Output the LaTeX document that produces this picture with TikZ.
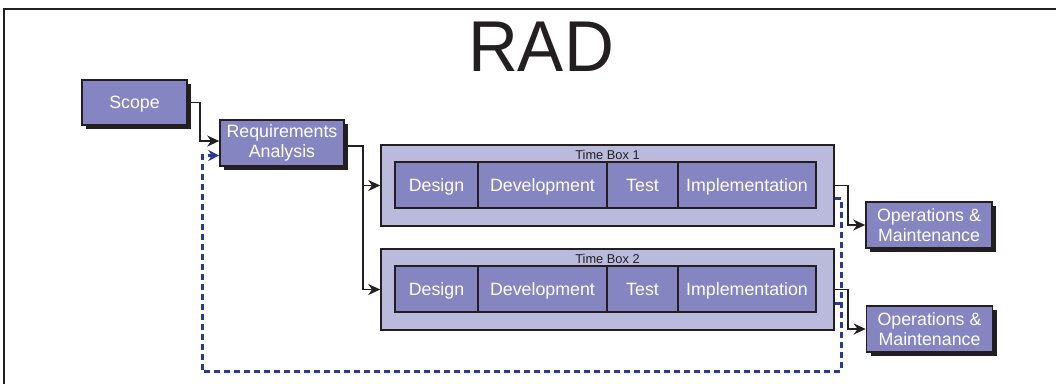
\documentclass[tikz,border=0pt]{standalone}
\usepackage{fontspec}
\setmainfont{Liberation Sans}
\usetikzlibrary{shadows,arrows.meta}
\definecolor{boxfill}{HTML}{8585C1}
\definecolor{tbfill}{HTML}{BABADD}
\definecolor{ink}{HTML}{231F20}
\definecolor{dashblue}{HTML}{2A3A98}
\tikzset{
  darkbox/.style={draw=ink, line width=1.6pt, fill=boxfill, text=white, align=center,
    inner sep=0pt, font=\fontsize{17.8}{19.5}\selectfont,
    drop shadow={shadow xshift=4pt, shadow yshift=-4pt, fill=ink, opacity=1}},
  onelinebox/.style={darkbox, text height=12.7pt, text depth=0pt},
  tbbox/.style={draw=ink, line width=1.6pt, fill=tbfill, inner sep=0pt},
  cell/.style={draw=ink, line width=1.5pt, fill=boxfill, text=white, inner sep=0pt,
    minimum height=46pt, text height=12.7pt, text depth=0pt, font=\fontsize{17.8}{19.5}\selectfont},
  tblabel/.style={font=\fontsize{12.8}{13}\selectfont, text=ink, inner sep=0pt},
  arr/.style={draw=ink, line width=1.7pt, -{Stealth[length=12pt,width=11pt]}},
  bdash/.style={draw=dashblue, line width=3pt, dash pattern=on 6pt off 4pt},
  barr/.style={-{Stealth[length=11pt,width=11pt]}}
}
\begin{document}
\begin{tikzpicture}[x=1pt,y=-1pt]
\useasboundingbox (0,0) rectangle (1056,383);
\draw[ink, line width=2pt] (4,9) rectangle (1080,400);
\node[inner sep=0pt, text=ink, font=\fontsize{72}{72}\selectfont] (title) at (541,47) {\scalebox{0.96}[1]{RAD}};

\node[onelinebox, minimum width=105pt, minimum height=45pt] (scope) at (134.5,102.5) {Scope};
\node[darkbox, minimum width=124pt, minimum height=46pt] (ra) at (282,143) {Requirements\\Analysis};
\node[darkbox, minimum width=126pt, minimum height=46pt] (om1) at (929,225) {Operations \&\\Maintenance};
\node[darkbox, minimum width=126pt, minimum height=46pt] (om2) at (929.5,329) {Operations \&\\Maintenance};

\node[tbbox, minimum width=453pt, minimum height=81pt] (tb1) at (607.5,185.5) {};
\node[tblabel] (tb1l) at (607.5,154.5) {Time Box 1};
\node[cell, minimum width=83pt] (d1) at (436.5,185) {Design};
\node[cell, minimum width=129pt] (v1) at (542.5,185) {Development};
\node[cell, minimum width=71pt] (t1) at (642.5,185) {Test};
\node[cell, minimum width=138pt] (i1) at (747,185) {Implementation};

\node[tbbox, minimum width=453pt, minimum height=81pt] (tb2) at (607.5,289.5) {};
\node[tblabel] (tb2l) at (607.5,258.5) {Time Box 2};
\node[cell, minimum width=83pt] (d2) at (436.5,289) {Design};
\node[cell, minimum width=129pt] (v2) at (542.5,289) {Development};
\node[cell, minimum width=71pt] (t2) at (642.5,289) {Test};
\node[cell, minimum width=138pt] (i2) at (747,289) {Implementation};

\coordinate (yA) at (0,141);
\coordinate (yB) at (0,155.5);
\coordinate (yC) at (0,146);
\coordinate (yD) at (0,198.5);
\coordinate (yE) at (0,303);
\coordinate (cBR) at (841,371.5);
\coordinate (cL) at (202,155.5);

\draw[arr] (scope.east) -- ++(12.5,0) |- (ra.west |- yA);
\draw[arr] (ra.east |- yC) -- ++(18,0) |- (tb1.west);
\draw[arr] (ra.east |- yC) -- ++(18,0) |- (tb2.west);
\draw[arr] (tb1.east) -- ++(13,0) |- (om1.west);
\draw[arr] (tb2.east) -- ++(13,0) |- (om2.west);

\draw[bdash] (tb1.east |- yD) -| (cBR) -| (cL) -- ++(6,0);
\draw[bdash] (tb2.east |- yE) -- (cBR |- yE);
\draw[dashblue, line width=3pt, barr] ([xshift=6pt]cL) -- (ra.west |- yB);
\end{tikzpicture}
\end{document}
